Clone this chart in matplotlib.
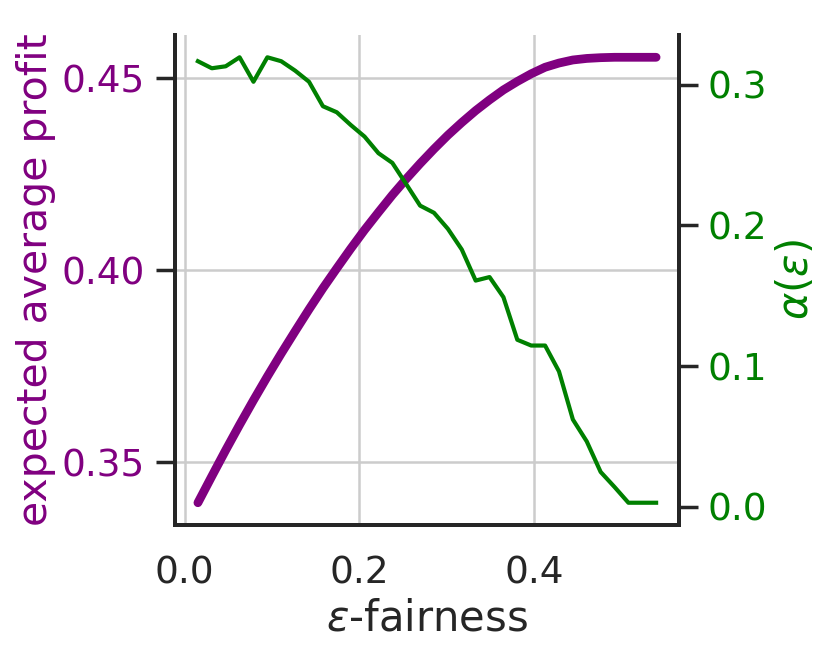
import matplotlib
matplotlib.use('Agg')
import matplotlib.pyplot as plt

plt.rcParams['font.family'] = ['DejaVu Sans']
plt.rcParams['mathtext.fontset'] = 'dejavusans'

# epsilon values (x axis)
eps = [0.0152, 0.0311, 0.0470, 0.0629, 0.0788, 0.0947, 0.1106, 0.1265, 0.1424,
       0.1583, 0.1742, 0.1901, 0.2060, 0.2219, 0.2378, 0.2537, 0.2696, 0.2855,
       0.3014, 0.3173, 0.3332, 0.3491, 0.3650, 0.3809, 0.3968, 0.4127, 0.4286,
       0.4445, 0.4604, 0.4763, 0.4922, 0.5081, 0.5240, 0.5398]

# expected average profit (left axis)
profit = [0.3394, 0.3463, 0.3531, 0.3597, 0.3661, 0.3723, 0.3783, 0.3841, 0.3898,
          0.3953, 0.4005, 0.4056, 0.4105, 0.4151, 0.4196, 0.4238, 0.4278, 0.4316,
          0.4352, 0.4385, 0.4416, 0.4444, 0.4470, 0.4492, 0.4512, 0.4529, 0.4540,
          0.4548, 0.4552, 0.4554, 0.4555, 0.4555, 0.4555, 0.4555]

# alpha(eps) (right axis)
alpha = [0.3168, 0.3118, 0.3132, 0.3196, 0.3022, 0.3196, 0.3168, 0.3101, 0.3022,
         0.2848, 0.2805, 0.2715, 0.2632, 0.2514, 0.2445, 0.2294, 0.2141, 0.2090,
         0.1976, 0.1829, 0.1608, 0.1633, 0.1490, 0.1187, 0.1146, 0.1146, 0.0962,
         0.0620, 0.0464, 0.0247, 0.0140, 0.0028, 0.0028, 0.0028]

dark = '#262626'
fig = plt.figure(figsize=(8.31, 6.57), dpi=100)
ax = fig.add_axes([0.2106, 0.2009, 0.8171 - 0.2106, 0.9467 - 0.2009])
ax2 = ax.twinx()

ax.plot(eps, profit, color='purple', linewidth=6.3, solid_capstyle='round',
        solid_joinstyle='round')
ax2.plot(eps, alpha, color='green', linewidth=3)

# grid only from the left axis
ax.grid(True, color='#cccccc', linewidth=1.8)
ax.set_axisbelow(True)
ax2.grid(False)

ax.set_xticks([0.0, 0.2, 0.4])
ax.set_xticklabels(['0.0', '0.2', '0.4'])
ax.set_yticks([0.35, 0.40, 0.45])
ax.set_yticklabels(['0.35', '0.40', '0.45'])
ax2.set_yticks([0.0, 0.1, 0.2, 0.3])
ax2.set_yticklabels(['0.0', '0.1', '0.2', '0.3'])

ax.tick_params(axis='x', length=0, pad=22, labelsize=27, labelcolor=dark)
ax.tick_params(axis='y', length=13.5, width=2.5, color=dark, pad=8,
               labelsize=27, labelcolor='purple')
ax2.tick_params(axis='y', length=13.5, width=2.5, color=dark, pad=7,
                labelsize=27, labelcolor='green')

for a in (ax, ax2):
    a.spines['top'].set_visible(False)
    for s in ('left', 'right', 'bottom'):
        a.spines[s].set_color(dark)
        a.spines[s].set_linewidth(2.8)

ax.set_xlabel(r'$\varepsilon$-fairness', fontsize=30, color=dark, labelpad=4)
ax.set_ylabel('expected average profit', fontsize=29.5, color='purple', labelpad=4)
ax2.set_ylabel(r'$\alpha(\varepsilon)$', fontsize=30, color='green', labelpad=6)

fig.savefig('out.png', dpi=100)
